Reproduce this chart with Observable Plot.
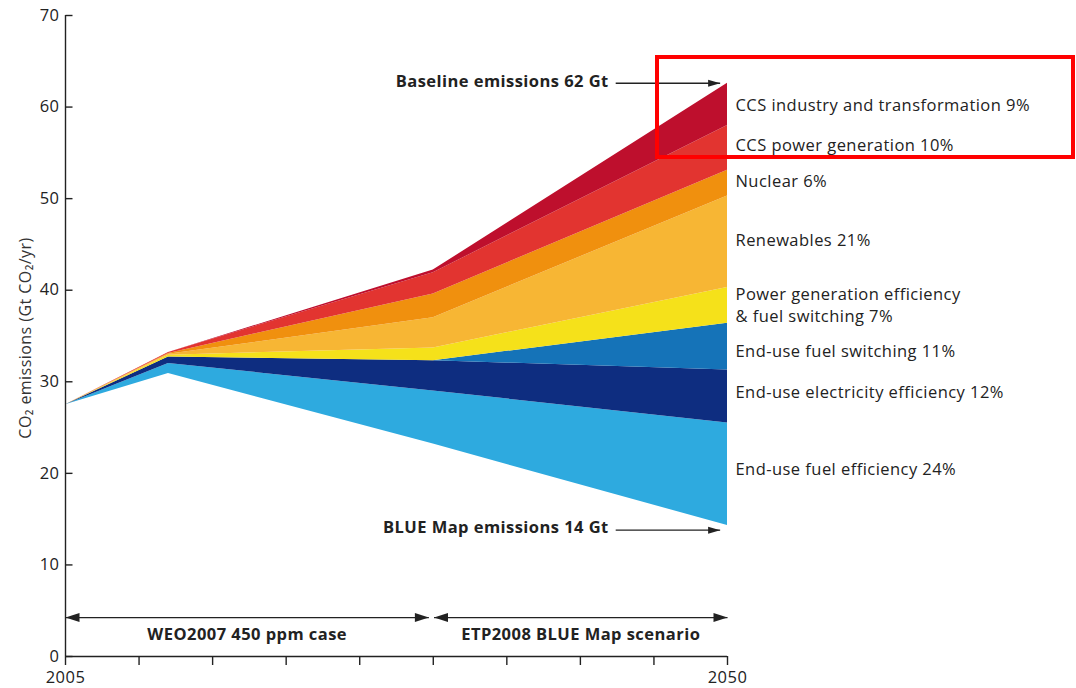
<!DOCTYPE html>
<html><head><meta charset="utf-8">
<script src="https://cdn.jsdelivr.net/npm/d3@7"></script>
<script src="https://cdn.jsdelivr.net/npm/@observablehq/plot@0.6"></script>
<style>
body{margin:0;background:#fff;}
#wrap{position:relative;width:1076px;height:688px;}
#wrap svg text{letter-spacing:0.45px;}
#box{position:absolute;left:655px;top:55px;width:420px;height:104px;border:4.5px solid #f00;box-sizing:border-box;pointer-events:none;}
</style></head><body><div id="wrap"><div id="box"></div></div>
<script>
// ---- data ----
const years = [2005, 2012, 2030, 2050];
const blueMapEmissions = [27.5, 30.9, 23.2, 14.3];
const endUseFuelEfficiency = [0, 1.1, 5.8, 11.2];
const endUseElectricityEfficiency = [0, 0.7, 3.3, 5.8];
const endUseFuelSwitching = [0, 0, 0, 5.1];
const powerGenEfficiency = [0, 0.2, 1.4, 3.9];
const renewables = [0, 0.1, 3.3, 10.0];
const nuclear = [0, 0.1, 2.6, 2.8];
const ccsPower = [0, 0.1, 2.3, 4.9];
const ccsIndustry = [0, 0, 0.3, 4.6];
const layerSeries = [endUseFuelEfficiency, endUseElectricityEfficiency, endUseFuelSwitching, powerGenEfficiency, renewables, nuclear, ccsPower, ccsIndustry];
const layerLabels = ["End-use fuel efficiency 24%", "End-use electricity efficiency 12%", "End-use fuel switching 11%", "Power generation efficiency\n& fuel switching 7%", "Renewables 21%", "Nuclear 6%", "CCS power generation 10%", "CCS industry and transformation 9%"];
const layerColors = ["#2eaadf", "#0e2d80", "#1573b8", "#f5e11a", "#f7b634", "#f0900e", "#e23430", "#be0f2d"];
const labelY = [20.6, 29.0, 33.5, 38.5, 45.6, 52.1, 56.0, 60.4];
const xTicks = [2005, 2010, 2015, 2020, 2025, 2030, 2035, 2040, 2045, 2050];
const yTicks = [0, 10, 20, 30, 40, 50, 60, 70];
const periods = [
  {x1: 2005, x2: 2029.7, y: 4.25, ty: 2.4, label: "WEO2007 450 ppm case"},
  {x1: 2030.05, x2: 2050, y: 4.25, ty: 2.4, label: "ETP2008 BLUE Map scenario"}
];
const endpoints = [
  {x1: 2042.4, x2: 2049.5, y: 62.6, label: "Baseline emissions 62 Gt"},
  {x1: 2042.4, x2: 2049.5, y: 13.8, label: "BLUE Map emissions 14 Gt"}
];

// ---- build stacked rows ----
const layers = layerSeries.map((vals, i) => ({
  color: layerColors[i],
  rows: years.map((yr, j) => {
    let base = blueMapEmissions[j];
    for (let k = 0; k < i; k++) base += layerSeries[k][j];
    return {year: yr, y1: base, y2: base + vals[j]};
  })
}));
const labelRows = layerLabels.map((t, i) => ({text: t, y: labelY[i]}));

// custom symbols
const tickRight = {draw(ctx){ ctx.moveTo(0,0); ctx.lineTo(7,0); }};
const headRight = {draw(ctx){ ctx.moveTo(0,0); ctx.lineTo(-14,-4.5); ctx.lineTo(-14,4.5); ctx.closePath(); }};
const headLeft = {draw(ctx){ ctx.moveTo(0,0); ctx.lineTo(14,-4.5); ctx.lineTo(14,4.5); ctx.closePath(); }};
const smallHead = {draw(ctx){ ctx.moveTo(0,0); ctx.lineTo(-12,-3.5); ctx.lineTo(-12,3.5); ctx.closePath(); }};
const ink = "#222";
const fs = 16.5;

const chart = Plot.plot({
  width: 1076, height: 688,
  marginLeft: 65, marginRight: 349, marginTop: 15, marginBottom: 32,
  style: {fontFamily: "'Open Sans', sans-serif", fontSize: fs + "px", color: ink, background: "transparent", overflow: "visible"},
  x: {domain: [2005, 2050]},
  y: {domain: [0, 70]},
  marks: [
    ...layers.map(l => Plot.areaY(l.rows, {x: "year", y1: "y1", y2: "y2", fill: l.color})),
    Plot.ruleX([2005], {stroke: ink, strokeWidth: 1.4}),
    Plot.ruleY([0], {stroke: ink, strokeWidth: 1.4}),
    Plot.axisX({ticks: xTicks, tickSize: 9, tickPadding: 6, label: null, stroke: ink, strokeWidth: 1.4, fontSize: fs,
      tickFormat: d => (d === 2005 || d === 2050) ? String(d) : ""}),
    Plot.axisY({ticks: yTicks, tickSize: 0, tickPadding: 6, label: null, fontSize: fs}),
    Plot.dot(yTicks, {x: 2005, y: d => d, symbol: tickRight, fill: "none", stroke: ink, strokeWidth: 1.4}),
    Plot.text(["CO₂ emissions (Gt CO₂/yr)"], {frameAnchor: "left", textAnchor: "middle", rotate: -90, dx: -40, dy: 2, fontSize: 16, fill: "#333"}),
    // period arrows
    Plot.link(periods, {x1: "x1", x2: "x2", y1: "y", y2: "y", stroke: ink, strokeWidth: 1.3}),
    Plot.dot(periods, {x: "x2", y: "y", symbol: headRight, fill: ink, stroke: "none"}),
    Plot.dot(periods, {x: "x1", y: "y", symbol: headLeft, fill: ink, stroke: "none"}),
    Plot.text(periods, {x: d => (d.x1 + d.x2) / 2, y: "ty", text: "label", fontWeight: "bold", fontSize: fs}),
    // baseline / BLUE map arrows
    Plot.link(endpoints, {x1: "x1", x2: "x2", y1: "y", y2: "y", stroke: ink, strokeWidth: 1.3}),
    Plot.dot(endpoints, {x: "x2", y: "y", symbol: smallHead, fill: ink, stroke: "none"}),
    Plot.text(endpoints, {x: "x1", y: "y", text: "label", textAnchor: "end", dx: -7, dy: -2, fontWeight: "bold", fontSize: fs}),
    // layer labels
    Plot.text(labelRows, {x: 2050, y: "y", text: "text", textAnchor: "start", dx: 8, fontSize: fs, lineHeight: 1.37, fill: ink})
  ]
});
document.getElementById("wrap").prepend(chart);
</script></body></html>
